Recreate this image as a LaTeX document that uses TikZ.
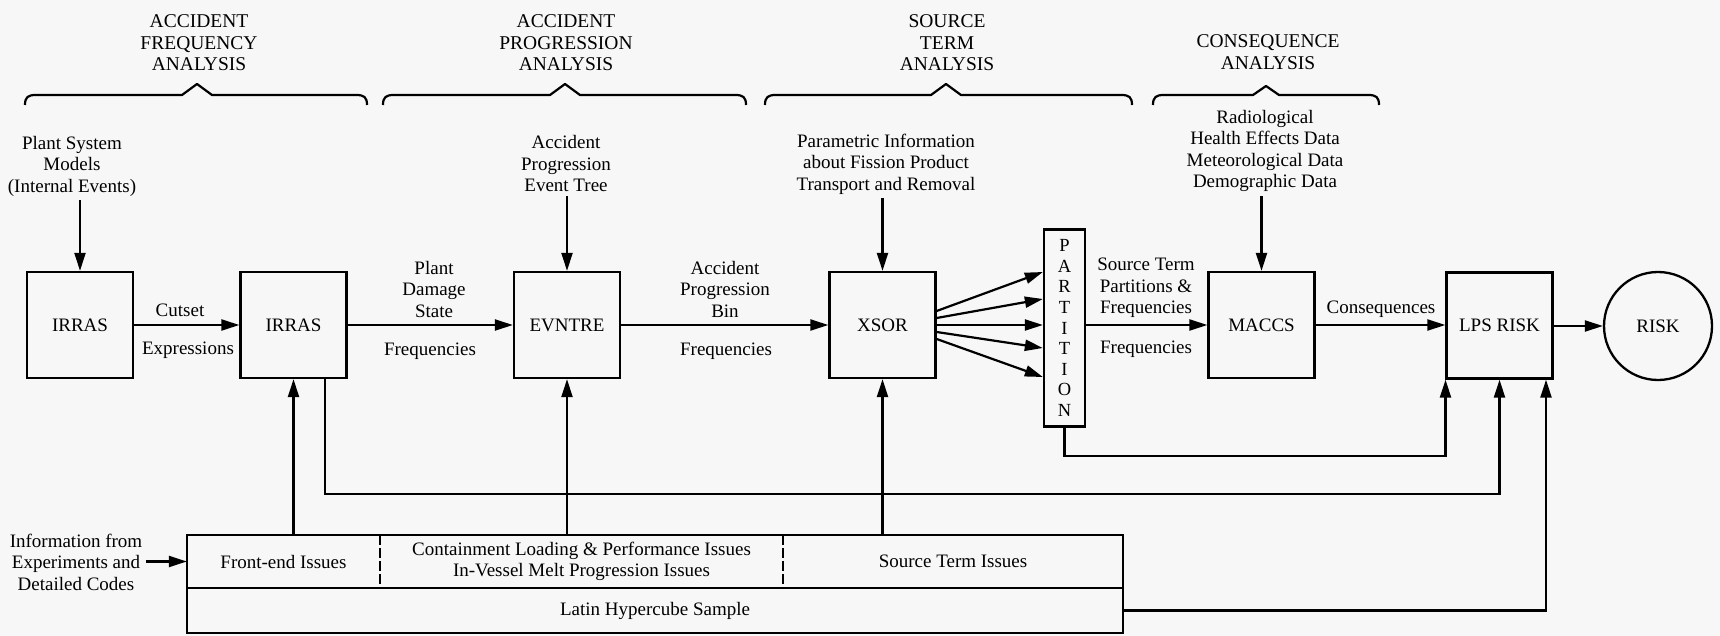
\documentclass[tikz,border=0pt]{standalone}
\usepackage{fontspec}
\setmainfont{Liberation Serif}
\usetikzlibrary{arrows.meta,calc}
\newcommand\dgbody{\fontsize{19}{21.5}\selectfont}
\newcommand\dghead{\fontsize{19.5}{21.5}\selectfont}
\begin{document}
\begin{tikzpicture}[x=1pt,y=-1pt,
  box/.style={draw, line width=2.3pt, minimum width=106pt, minimum height=106pt, inner sep=0pt, font=\dgbody},
  lbl/.style={align=center, font=\dgbody, inner sep=0pt},
  hdr/.style={align=center, font=\dghead, inner sep=0pt},
  arr/.style={line width=2.2pt, -{Triangle[length=18pt,width=11pt]}},
  brace/.style={line width=2.2pt, line join=round},
  cell/.style={inner sep=0pt, font=\dgbody, align=center}
]
\fill[black!3] (0,0) rectangle (1720,636);
\useasboundingbox (0,0) rectangle (1720,636);

% headers
\node[hdr] (h1) at (199,43) {ACCIDENT\\FREQUENCY\\ANALYSIS};
\node[hdr] (h2) at (566,43) {ACCIDENT\\PROGRESSION\\ANALYSIS};
\node[hdr] (h3) at (947,43) {SOURCE\\TERM\\ANALYSIS};
\node[hdr] (h4) at (1268,52) {CONSEQUENCE\\ANALYSIS};

% braces
\draw[brace] (25,105) .. controls (25,97) and (28,95) .. (36,95) -- (182,95) -- (197,84) -- (212,95) -- (356,95) .. controls (364,95) and (367,97) .. (367,105);
\draw[brace] (383,105) .. controls (383,97) and (386,95) .. (394,95) -- (550,95) -- (565,84) -- (580,95) -- (735,95) .. controls (743,95) and (746,97) .. (746,105);
\draw[brace] (765,105) .. controls (765,97) and (768,95) .. (776,95) -- (931,95) -- (946,84) -- (961,95) -- (1121,95) .. controls (1129,95) and (1132,97) .. (1132,105);
\draw[brace] (1153,105) .. controls (1153,97) and (1156,95) .. (1164,95) -- (1253,95) -- (1266,86) -- (1279,95) -- (1368,95) .. controls (1376,95) and (1379,97) .. (1379,105);

% inputs
\node[lbl] (in1) at (72,166) {Plant System\\Models\\(Internal Events)};
\node[lbl] (in2) at (566,164) {Accident\\Progression\\Event Tree};
\node[lbl] (in3) at (886,164) {Parametric Information\\about Fission Product\\Transport and Removal};
\node[lbl] (in4) at (1265,151) {Radiological\\Health Effects Data\\Meteorological Data\\Demographic Data};

% main boxes
\node[box] (irras1) at (80,325) {IRRAS};
\node[box] (irras2) at (293.5,325) {IRRAS};
\node[box] (evntre) at (567,325) {EVNTRE};
\node[box] (xsor) at (882.5,325) {XSOR};
\node[box] (maccs) at (1261.5,325) {MACCS};
\node[box] (lps) at (1499.5,325.5) {LPS RISK};
\node[draw, circle, line width=2.3pt, minimum size=108pt, inner sep=0pt, font=\dgbody] (risk) at (1658,326) {RISK};
\node[draw, line width=2.3pt, minimum width=41pt, minimum height=197pt, inner sep=0pt, align=center, font=\fontsize{18.5}{20.6}\selectfont] (part) at (1064.5,328) {P\\A\\R\\T\\I\\T\\I\\O\\N};

% input arrows
\draw[arr] ($(in1.south -| irras1.north)+(0,4)$) -- (irras1.north);
\draw[arr] ($(in2.south -| evntre.north)+(0,4)$) -- (evntre.north);
\draw[arr] ($(in3.south -| xsor.north)+(0,4)$) -- (xsor.north);
\draw[arr] ($(in4.south -| maccs.north)+(0,4)$) -- (maccs.north);

% main flow
\draw[arr] (irras1) -- (irras2);
\draw[arr] (irras2) -- (evntre);
\draw[arr] (evntre) -- (xsor);
\foreach \s/\e in {-14/-56,-7/-29,0/-3,7/20,14/49}
  \draw[arr] ($(xsor.east)+(0,\s)$) -- ($(part.west)+(0,\e)$);
\draw[arr] (part.east |- maccs.west) -- (maccs.west);
\draw[arr] (maccs.east) -- (maccs.east -| lps.west);
\draw[arr] (lps.east |- risk.west) -- (risk.west);

% flow labels
\node[lbl] (cutset) at (180,310) {Cutset};
\node[lbl] (expr) at (188,350) {Expressions};
\node[lbl] (pds) at (434,289) {Plant\\Damage\\State};
\node[lbl] (f1) at (430,351) {Frequencies};
\node[lbl] (apb) at (725,289) {Accident\\Progression\\Bin};
\node[lbl] (f2) at (726,351) {Frequencies};
\node[lbl] (stp) at (1146,288) {Source Term\\Partitions \&\\Frequencies};
\node[lbl] (f3) at (1146,349) {Frequencies};
\node[lbl] (cons) at (1381,309) {Consequences};

% issues table
\node[cell, minimum width=193pt, minimum height=53pt] (fe) at (283.5,561.5) {Front-end Issues};
\node[cell, minimum width=403pt, minimum height=53pt] (cl) at (581.5,561.5) {Containment Loading \& Performance Issues\\In-Vessel Melt Progression Issues};
\node[cell, minimum width=340pt, minimum height=53pt] (st) at (953,561.5) {Source Term Issues};
\node[cell, draw, line width=2.2pt, minimum width=936pt, minimum height=45pt] (lhs) at (655,610.5) {Latin Hypercube Sample};
\draw[line width=2.2pt] (fe.south west) -- (fe.north west) -- (st.north east) -- (st.south east);
\draw[line width=1.8pt, dash pattern=on 10pt off 3pt] (fe.north east) -- (fe.south east);
\draw[line width=1.8pt, dash pattern=on 10pt off 3pt] (cl.north east) -- (cl.south east);

\node[lbl] (info) at (76,562) {Information from\\Experiments and\\Detailed Codes};
\draw[arr, shorten <=4pt] (info.east |- fe.west) -- (fe.west);

% feedback connectors
\draw[arr] (irras2.south |- fe.north) -- (irras2.south);
\draw[arr] (evntre.south |- cl.north) -- (evntre.south);
\draw[arr] (xsor.south |- st.north) -- (xsor.south);
\coordinate (j1) at (1499.5,494);
\coordinate (j2) at (1445.5,456);
\coordinate (j3) at (1546,610.5);
\draw[arr] ($(irras2.south)+(31.5,0)$) |- (j1) -- (lps.south);
\draw[arr] (part.south) |- (j2) -- (j2 |- lps.south);
\draw[arr] (lhs.east) -- (j3) -- (j3 |- lps.south);
\end{tikzpicture}
\end{document}
